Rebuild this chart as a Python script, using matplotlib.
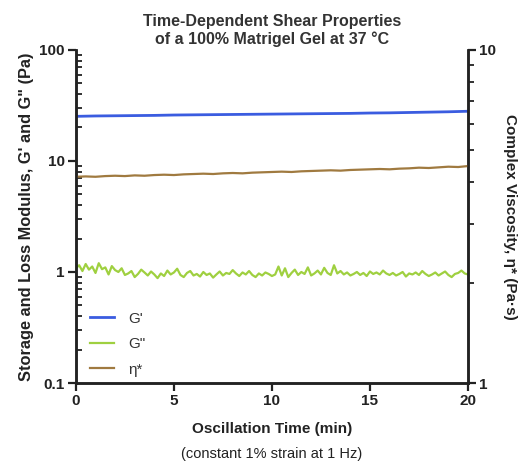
import numpy as np
import matplotlib.pyplot as plt
from matplotlib.ticker import LogLocator, NullFormatter, FixedLocator

plt.rcParams['font.family'] = ['Liberation Sans', 'DejaVu Sans']

# storage modulus G' (Pa), one value per minute
g_storage = [25.2, 25.4, 25.5, 25.6, 25.7, 25.9, 26.0, 26.1, 26.2, 26.3, 26.4,
             26.5, 26.6, 26.7, 26.8, 27.0, 27.1, 27.3, 27.5, 27.7, 28.0]

# loss modulus G'' (Pa), every 10 s
g_loss = [1.08, 1.15, 1.02, 1.18, 1.05, 1.12, 0.98, 1.20, 1.06, 1.10, 0.95, 1.13, 1.04,
          1.00, 1.08, 0.94, 0.97, 1.02, 0.90, 0.96, 1.05, 0.99, 0.93, 1.01, 0.95,
          0.88, 0.97, 0.92, 1.03, 0.95, 0.99, 1.07, 0.94, 0.90, 0.98, 1.02, 0.93,
          0.96, 0.91, 1.00, 0.94, 0.97, 0.89, 0.95, 1.01, 0.93, 0.98, 0.96, 1.04,
          0.97, 0.92, 0.99, 0.95, 1.02, 0.94, 0.90, 0.97, 0.93, 0.99, 0.96, 0.92,
          0.95, 1.12, 0.93, 1.08, 0.90, 0.98, 1.05, 0.94, 1.00, 0.96, 1.10, 0.93,
          0.97, 1.03, 0.95, 1.09, 0.98, 0.94, 1.15, 0.97, 1.02, 0.95, 0.99, 0.93,
          0.96, 1.00, 0.94, 0.98, 0.92, 1.01, 0.96, 0.99, 0.95, 1.03, 0.97, 0.94,
          0.98, 0.93, 0.96, 1.00, 0.91, 0.97, 0.95, 0.99, 0.94, 1.02, 0.96, 0.92,
          0.95, 0.99, 0.93, 0.97, 1.01, 0.94, 0.90, 0.96, 0.98, 1.03, 0.97, 0.95]

# complex viscosity eta* (Pa s), every 30 s
eta = [4.16, 4.17, 4.16, 4.18, 4.19, 4.18, 4.20, 4.19, 4.21, 4.22, 4.21,
       4.23, 4.24, 4.25, 4.24, 4.26, 4.27, 4.26, 4.28, 4.29, 4.30,
       4.31, 4.30, 4.32, 4.33, 4.34, 4.35, 4.34, 4.36, 4.37, 4.38,
       4.39, 4.38, 4.40, 4.41, 4.43, 4.42, 4.44, 4.46, 4.45, 4.48]

t_storage = np.linspace(0, 20, len(g_storage))
t_loss = np.linspace(0, 20, len(g_loss))
t_eta = np.linspace(0, 20, len(eta))

dark = '#222222'
fig = plt.figure(figsize=(5.27, 4.66), dpi=100)
ax = fig.add_axes([0.144, 0.178, 0.744, 0.715])
ax2 = ax.twinx()

l1, = ax.plot(t_storage, g_storage, color='#3a5ce0', lw=2.0, label="G'")
l2, = ax.plot(t_loss, g_loss, color='#9fd040', lw=1.6, label='G"')
l3, = ax2.plot(t_eta, eta, color='#a07a40', lw=1.6, label='η*')

ax.set_yscale('log')
ax.set_ylim(0.1, 100)
ax.set_xlim(0, 20)
ax.set_xticks([0, 5, 10, 15, 20])
ax.yaxis.set_major_locator(FixedLocator([0.1, 1, 10, 100]))
ax.set_yticklabels(['0.1', '1', '10', '100'])
ax.yaxis.set_minor_locator(LogLocator(base=10, subs=np.arange(2, 10)))
ax.yaxis.set_minor_formatter(NullFormatter())

ax2.set_yscale('log')
ax2.set_ylim(1, 10)
ax2.yaxis.set_major_locator(FixedLocator([1, 10]))
ax2.set_yticklabels(['1', '10'])
ax2.yaxis.set_minor_locator(LogLocator(base=10, subs=np.arange(2, 10)))
ax2.yaxis.set_minor_formatter(NullFormatter())

for a in (ax, ax2):
    a.spines['top'].set_visible(False)
    for side in ('left', 'right', 'bottom'):
        a.spines[side].set_linewidth(1.8)
        a.spines[side].set_color(dark)
    a.tick_params(which='major', length=6, width=1.6, color=dark,
                  labelsize=11, labelcolor=dark, pad=2)
    a.tick_params(which='minor', length=4, width=1.3, color=dark)
    for lab in a.get_xticklabels() + a.get_yticklabels():
        lab.set_fontweight('bold')
ax.tick_params(axis='y', which='minor', direction='in')

ax.set_title("Time-Dependent Shear Properties\nof a 100% Matrigel Gel at 37 °C",
             fontsize=11.5, fontweight='bold', color='#333333', pad=4)
ax.set_xlabel('Oscillation Time (min)', fontsize=11, fontweight='bold',
              color=dark, labelpad=10)
fig.text(0.516, 0.018, '(constant 1% strain at 1 Hz)', fontsize=10.5,
         color=dark, ha='center')
ax.set_ylabel("Storage and Loss Modulus, G' and G\" (Pa)", fontsize=11.8,
              fontweight='bold', color=dark, labelpad=4)
ax2.set_ylabel('Complex Viscosity, η* (Pa·s)', fontsize=11, fontweight='bold',
               color=dark, rotation=270, labelpad=15)

ax.legend(handles=[l1, l2, l3], loc='upper left', bbox_to_anchor=(0.0, 0.255),
          frameon=False, fontsize=11, handlelength=1.6, labelspacing=0.75,
          handletextpad=0.9, labelcolor='#333333')

fig.savefig('out.png', dpi=100)
